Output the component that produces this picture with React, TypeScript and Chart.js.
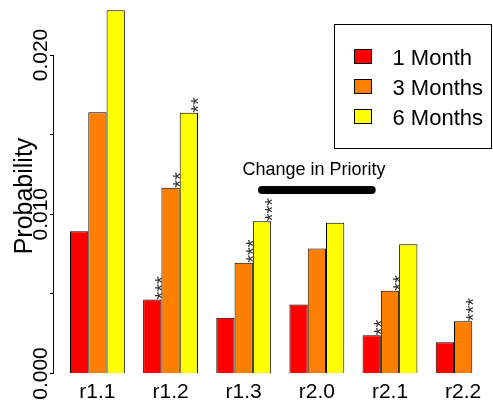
import React, { useEffect, useRef } from 'react';
import { Chart, registerables } from 'chart.js';

Chart.register(...registerables);

// ---------- data ----------
const categories = ['r1.1', 'r1.2', 'r1.3', 'r2.0', 'r2.1', 'r2.2'];
const seriesNames = ['1 Month', '3 Months', '6 Months'];
const seriesColors = ['#FF0000', '#FF8000', '#FFFF00'];
const month1 = [0.00894, 0.00465, 0.0035, 0.00433, 0.0024, 0.00197];
const month3 = [0.01641, 0.01166, 0.00695, 0.00785, 0.00519, 0.00328];
const month6: (number | null)[] = [0.02281, 0.01637, 0.00956, 0.00946, 0.00812, null];
const stars1 = ['', '***', '', '', '**', ''];
const stars3 = ['', '**', '***', '', '**', '***'];
const stars6 = ['', '**', '***', '', '', ''];
const yTickValues = [0, 0.005, 0.01, 0.015, 0.02];
const yTickLabels = ['0.000', '', '0.010', '', '0.020'];
const yAxisTitle = 'Probability';
const annotationText = 'Change in Priority';
const annotationLineFrom = 2.25;
const annotationLineTo = 3.75;
const annotationLineY = 0.01152;
const annotationTextX = 2.96;
const annotationTextY = 0.01246;

const FONT = '"Liberation Sans", Arial, Helvetica, sans-serif';
const seriesValues = [month1, month3, month6];
const seriesStars = [stars1, stars3, stars6];

const rStylePlugin = {
  id: 'rStyle',
  afterDatasetsDraw(chart: any) {
    const ctx = chart.ctx as CanvasRenderingContext2D;
    const xs = chart.scales.x;
    const ys = chart.scales.y;
    const area = chart.chartArea;
    ctx.save();
    ctx.fillStyle = '#000';

    // y tick labels (rotated, R style)
    ctx.font = `21px ${FONT}`;
    ctx.textAlign = 'center';
    ctx.textBaseline = 'alphabetic';
    yTickValues.forEach((v, i) => {
      const lbl = yTickLabels[i];
      if (!lbl) return;
      const py = ys.getPixelForValue(v);
      ctx.save();
      ctx.translate(area.left - 6.5, py);
      ctx.rotate(-Math.PI / 2);
      ctx.fillText(lbl, 0, 0);
      ctx.restore();
    });

    // y axis title
    ctx.font = `25px ${FONT}`;
    ctx.save();
    ctx.translate(area.left - 21, 196);
    ctx.rotate(-Math.PI / 2);
    ctx.fillText(yAxisTitle, 0, 0);
    ctx.restore();

    // significance stars
    ctx.font = `20px ${FONT}`;
    ctx.fillStyle = '#333';
    ctx.textAlign = 'left';
    seriesStars.forEach((stars, d) => {
      const meta = chart.getDatasetMeta(d);
      stars.forEach((s, i) => {
        if (!s) return;
        const el = meta.data[i];
        if (!el) return;
        const right = el.x + el.width / 2;
        ctx.save();
        ctx.translate(right + 7.5, el.y);
        ctx.rotate(-Math.PI / 2);
        ctx.fillText(s, 0, 0);
        ctx.restore();
      });
    });

    // annotation
    ctx.fillStyle = '#000';
    ctx.strokeStyle = '#000';
    ctx.lineWidth = 8;
    ctx.lineCap = 'round';
    ctx.beginPath();
    const ly = ys.getPixelForValue(annotationLineY);
    ctx.moveTo(xs.getPixelForValue(annotationLineFrom), ly);
    ctx.lineTo(xs.getPixelForValue(annotationLineTo), ly);
    ctx.stroke();
    ctx.font = `18px ${FONT}`;
    ctx.textAlign = 'center';
    ctx.fillText(annotationText, xs.getPixelForValue(annotationTextX), ys.getPixelForValue(annotationTextY));

    // legend
    const boxRight = chart.width - 1.5;
    const boxLeft = 334.5;
    const boxTop = 24.5;
    const boxBottom = 148.5;
    ctx.lineWidth = 1;
    ctx.lineCap = 'butt';
    ctx.fillStyle = '#fff';
    ctx.fillRect(boxLeft, boxTop, boxRight - boxLeft, boxBottom - boxTop);
    ctx.strokeRect(boxLeft, boxTop, boxRight - boxLeft, boxBottom - boxTop);
    ctx.font = `22px ${FONT}`;
    ctx.textAlign = 'left';
    ctx.textBaseline = 'alphabetic';
    seriesNames.forEach((name, i) => {
      const cy = 56.5 + i * 30;
      ctx.fillStyle = seriesColors[i];
      ctx.fillRect(354.5, cy - 7, 17, 14);
      ctx.strokeRect(354.5, cy - 7, 17, 14);
      ctx.fillStyle = '#000';
      ctx.fillText(name, 392.5, cy + 8);
    });
    ctx.restore();
  },
};

export default function App() {
  const ref = useRef<HTMLCanvasElement>(null);
  useEffect(() => {
    const groupPx = 73.14;
    const firstCenter = 97.43;
    const left = 53;
    const right = 493;
    const xMin = -(firstCenter - left) / groupPx;
    const xMax = xMin + (right - left) / groupPx;
    const chart = new Chart(ref.current as HTMLCanvasElement, {
      type: 'bar',
      data: {
        datasets: seriesNames.map((name, d) => ({
          label: name,
          data: categories.map((_, i) => ({ x: i, y: seriesValues[d][i] })),
          backgroundColor: seriesColors[d],
          borderColor: '#000',
          borderWidth: 1,
          categoryPercentage: 0.75,
          barPercentage: 1,
          clip: false as any,
        })),
      } as any,
      options: {
        animation: false,
        responsive: false,
        devicePixelRatio: 1,
        layout: { padding: { top: 55, left: 0, right: 0, bottom: 0 } },
        plugins: { legend: { display: false }, tooltip: { enabled: false }, title: { display: false } },
        scales: {
          x: {
            type: 'linear',
            min: xMin,
            max: xMax,
            offset: false,
            grid: { display: false, drawTicks: false },
            border: { display: false },
            afterBuildTicks: (s: any) => {
              s.ticks = categories.map((_, i) => ({ value: i }));
            },
            afterFit: (s: any) => {
              s.height = 33.5;
              s.paddingLeft = 0;
              s.paddingRight = 0;
            },
            ticks: {
              autoSkip: false,
              maxRotation: 0,
              minRotation: 0,
              padding: 6,
              color: '#000',
              font: { family: FONT, size: 21 },
              callback: (v: any) => categories[Math.round(Number(v))] ?? '',
            },
          },
          y: {
            type: 'linear',
            position: 'left',
            min: 0,
            max: 0.02,
            afterBuildTicks: (s: any) => {
              s.ticks = yTickValues.map((v) => ({ value: v }));
            },
            afterFit: (s: any) => {
              s.width = 53;
              s.paddingTop = 0;
              s.paddingBottom = 0;
            },
            ticks: { display: false },
            grid: { drawOnChartArea: false, drawTicks: true, tickLength: 3, color: '#000', lineWidth: 1 },
            border: { display: true, color: '#000', width: 1 },
          },
        },
      } as any,
      plugins: [rStylePlugin],
    });
    return () => chart.destroy();
  }, []);
  return (
    <div style={{ position: 'absolute', left: 0, top: 0, width: 493, height: 407, background: '#fff' }}>
      <canvas ref={ref} width={493} height={407} style={{ display: 'block', width: 493, height: 407 }} />
    </div>
  );
}
